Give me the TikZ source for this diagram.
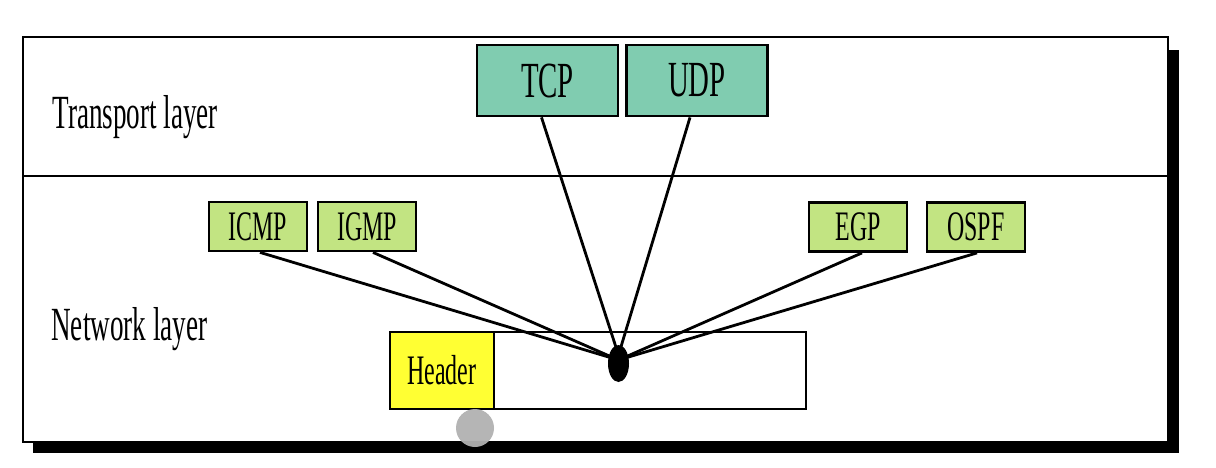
\documentclass[tikz,border=0pt]{standalone}
\usepackage{fontspec}
\setmainfont[FakeStretch=0.57]{Liberation Serif}
\usepackage{tikz}
\usetikzlibrary{shapes}
\definecolor{tcpteal}{HTML}{80CCB0}
\definecolor{ipgreen}{HTML}{C2E482}
\definecolor{hdryellow}{HTML}{FFFF33}
\tikzset{
proto/.style={
  draw=black,
  line width=1.4pt,
  fill=tcpteal,
  inner sep=0pt,
  minimum width=70.5pt,
  minimum height=35.5pt,
  font=\fontsize{25.3pt}{28pt}\selectfont
  }
}
\tikzset{
netproto/.style={
  draw=black,
  line width=1.4pt,
  fill=ipgreen,
  inner sep=0pt,
  minimum width=49pt,
  minimum height=24.5pt,
  font=\fontsize{21pt}{24pt}\selectfont
  }
}
\tikzset{
layername/.style={
  anchor=base west,
  inner sep=0pt,
  font=\fontsize{23.8pt}{26pt}\selectfont
  }
}
\tikzstyle{edge} = [draw,line width=1.4pt]
\tikzset{%
    boundingBox/.style={use as bounding box},
    }

\begin{document}
\begin{tikzpicture}[x=0.5pt, y=-0.5pt]
        \path[boundingBox] (0,0) rectangle (1216,467);
	\pgfdeclarelayer{background}
	\pgfsetlayers{background,main}

	\begin{pgfonlayer}{background}
		\fill[black] (33,50) rectangle (1179,453);
		\draw[line width=1.3pt, fill=white] (23,37) rectangle (1168,442);
		\draw[line width=1.3pt] (23,176) -- (1168,176);
	\end{pgfonlayer}

	\begin{pgfonlayer}{main}
		%layers
		\node (ltransport) at (52,128) [layername] {Transport layer};
		\node (lnetwork) at (51,340) [layername] {Network layer};

		%vertices
		\node (tcp) at (547.5,80.5) [proto] {TCP};
		\node (udp) at (697,80.5) [proto] {UDP};

		\node (icmp) at (258,226.5) [netproto] {ICMP};
		\node (igmp) at (367,226.5) [netproto] {IGMP};
		\node (egp) at (858,227) [netproto] {EGP};
		\node (ospf) at (976,227) [netproto] {OSPF};

		\node (body) at (650,370.5) [draw, line width=1.4pt, fill=white, inner sep=0pt, minimum width=156pt, minimum height=38.5pt] {};
		\node (header) at (442,370.5) [netproto, fill=hdryellow, minimum width=52pt, minimum height=38.5pt] {Header};

		%edges
		\draw ([xshift=-3pt]tcp.south) edge[edge] (618.5,355);
		\draw ([xshift=-3.5pt]udp.south) edge[edge] (618.5,355);
		\draw ([xshift=1pt]icmp.south) edge[edge] (618.5,360);
		\draw ([xshift=3pt]igmp.south) edge[edge] (618.5,360);
		\draw ([xshift=2pt]egp.south) edge[edge] (618.5,360);
		\draw ([xshift=0.5pt]ospf.south) edge[edge] (618.5,360);

		\node (dot) at (618.5,363.5) [ellipse, fill=black, inner sep=0pt, minimum width=10.5pt, minimum height=18.5pt] {};
		\node (marker) at (475,428) [circle, fill=black!30, opacity=0.95, inner sep=0pt, minimum size=19pt] {};
	\end{pgfonlayer}
\end{tikzpicture}
\end{document}
